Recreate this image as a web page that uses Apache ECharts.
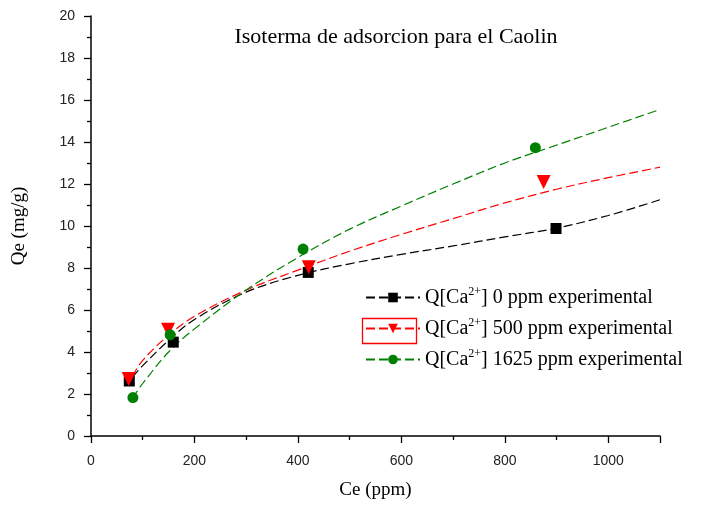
<!DOCTYPE html>
<html>
<head>
<meta charset="utf-8">
<script src="https://cdn.jsdelivr.net/npm/echarts@6/dist/echarts.min.js"></script>
<style>
  html, body { margin: 0; padding: 0; background: #fff; }
  #chart { width: 719px; height: 505px; }
</style>
</head>
<body>
<div id="chart"></div>
<script>
// Experimental adsorption points, Ce (ppm) vs Qe (mg/g)
const ce0 = [74, 159, 420, 899];
const qe0 = [2.62, 4.47, 7.79, 9.88];
const ce500 = [73, 149, 421, 875];
const qe500 = [2.72, 5.06, 8.03, 12.1];
const ce1625 = [81, 153, 410, 859];
const qe1625 = [1.83, 4.82, 8.9, 13.73];

// Fitted isotherm curves sampled along Ce
const fitCe = [80, 100, 150, 200, 300, 400, 500, 600, 700, 800, 900, 1000, 1100];
const fit0 = [2.8, 3.35, 4.55, 5.55, 6.85, 7.65, 8.2, 8.65, 9.05, 9.48, 9.9, 10.5, 11.25];
const fit500 = [2.85, 3.6, 4.8, 5.7, 6.95, 7.9, 8.8, 9.6, 10.35, 11.1, 11.75, 12.3, 12.8];
const fit1625 = [1.8, 2.5, 4.0, 5.1, 6.95, 8.5, 9.85, 10.95, 12.0, 13.0, 13.85, 14.7, 15.55];

const legendNames = [
  'Q[Ca{sup|2+}] 0 ppm experimental',
  'Q[Ca{sup|2+}] 500 ppm experimental',
  'Q[Ca{sup|2+}] 1625 ppm experimental'
];

const serif = '"Liberation Serif", "Times New Roman", serif';
const sans = '"Liberation Sans", Arial, sans-serif';
const downTriangle = 'path://M0,0L10,0L5,9Z';

function pairs(xs, ys) { return xs.map((x, i) => [x, ys[i]]); }

function curveSeries(name, xs, ys, color, symbol, size) {
  return {
    name: name,
    type: 'line',
    smooth: 0.35,
    symbol: symbol,
    symbolSize: size,
    showSymbol: true,
    data: xs.map((x, i) => ({ value: [x, ys[i]], symbol: 'none' })),
    lineStyle: { color: color, width: 1.2, type: [9, 4] },
    itemStyle: { color: color },
    emphasis: { disabled: true },
    z: 2
  };
}

function pointSeries(id, xs, ys, color, symbol, size) {
  return {
    id: id,
    type: 'scatter',
    symbol: symbol,
    symbolSize: size,
    data: pairs(xs, ys),
    itemStyle: { color: color, opacity: 1 },
    emphasis: { disabled: true },
    z: 3
  };
}

const axisText = { fontFamily: sans, fontSize: 14, color: '#222' };

const chart = echarts.init(document.getElementById('chart'));
chart.setOption({
  animation: false,
  backgroundColor: '#ffffff',
  title: {
    text: 'Isoterma de adsorcion para el Caolin',
    left: 391, top: 21, textAlign: 'center',
    textStyle: { fontFamily: serif, fontSize: 22, fontWeight: 'normal', color: '#000' }
  },
  grid: { left: 91, right: 59, top: 16, bottom: 68 },
  xAxis: {
    type: 'value', min: 0, max: 1100, interval: 200,
    name: 'Ce (ppm)', nameLocation: 'middle', nameGap: 45,
    nameTextStyle: { fontFamily: serif, fontSize: 19, color: '#000' },
    axisLine: { show: true, lineStyle: { color: '#000', width: 1.5 } },
    axisTick: { show: true, length: 7, lineStyle: { color: '#000', width: 1.3 } },
    minorTick: { show: true, splitNumber: 2, length: 4, lineStyle: { color: '#000', width: 1.3 } },
    axisLabel: Object.assign({ margin: 18, showMaxLabel: false, formatter: v => String(v) }, axisText),
    splitLine: { show: false }
  },
  yAxis: {
    type: 'value', min: 0, max: 20, interval: 2,
    name: 'Qe (mg/g)', nameLocation: 'middle', nameGap: 62, nameRotate: 90,
    nameTextStyle: { fontFamily: serif, fontSize: 19, color: '#000' },
    axisLine: { show: true, lineStyle: { color: '#000', width: 1.5 } },
    axisTick: { show: true, length: 7, lineStyle: { color: '#000', width: 1.3 } },
    minorTick: { show: true, splitNumber: 2, length: 4, lineStyle: { color: '#000', width: 1.3 } },
    axisLabel: Object.assign({ margin: 16, formatter: v => String(v) }, axisText),
    splitLine: { show: false }
  },
  legend: {
    data: legendNames,
    orient: 'vertical',
    left: 360, top: 281,
    itemWidth: 54, itemHeight: 12, itemGap: 9.5,
    selectedMode: false,
    textStyle: {
      fontFamily: serif, fontSize: 20, color: '#000',
      rich: { sup: { fontFamily: serif, fontSize: 12, color: '#000', padding: [0, 0, 11, 0] } }
    }
  },
  graphic: [{
    type: 'rect', left: 360, top: 316,
    shape: { width: 54, height: 25 },
    style: { fill: 'none', stroke: '#ff0000', lineWidth: 1.3 },
    z: 100
  }],
  series: [
    curveSeries(legendNames[0], fitCe, fit0, '#000000', 'rect', 9),
    curveSeries(legendNames[1], fitCe, fit500, '#ff0000', downTriangle, 11),
    curveSeries(legendNames[2], fitCe, fit1625, '#008000', 'circle', 9),
    pointSeries('p0', ce0, qe0, '#000000', 'rect', 11),
    pointSeries('p500', ce500, qe500, '#ff0000', downTriangle, 14),
    pointSeries('p1625', ce1625, qe1625, '#008000', 'circle', 11)
  ]
});
</script>
</body>
</html>
